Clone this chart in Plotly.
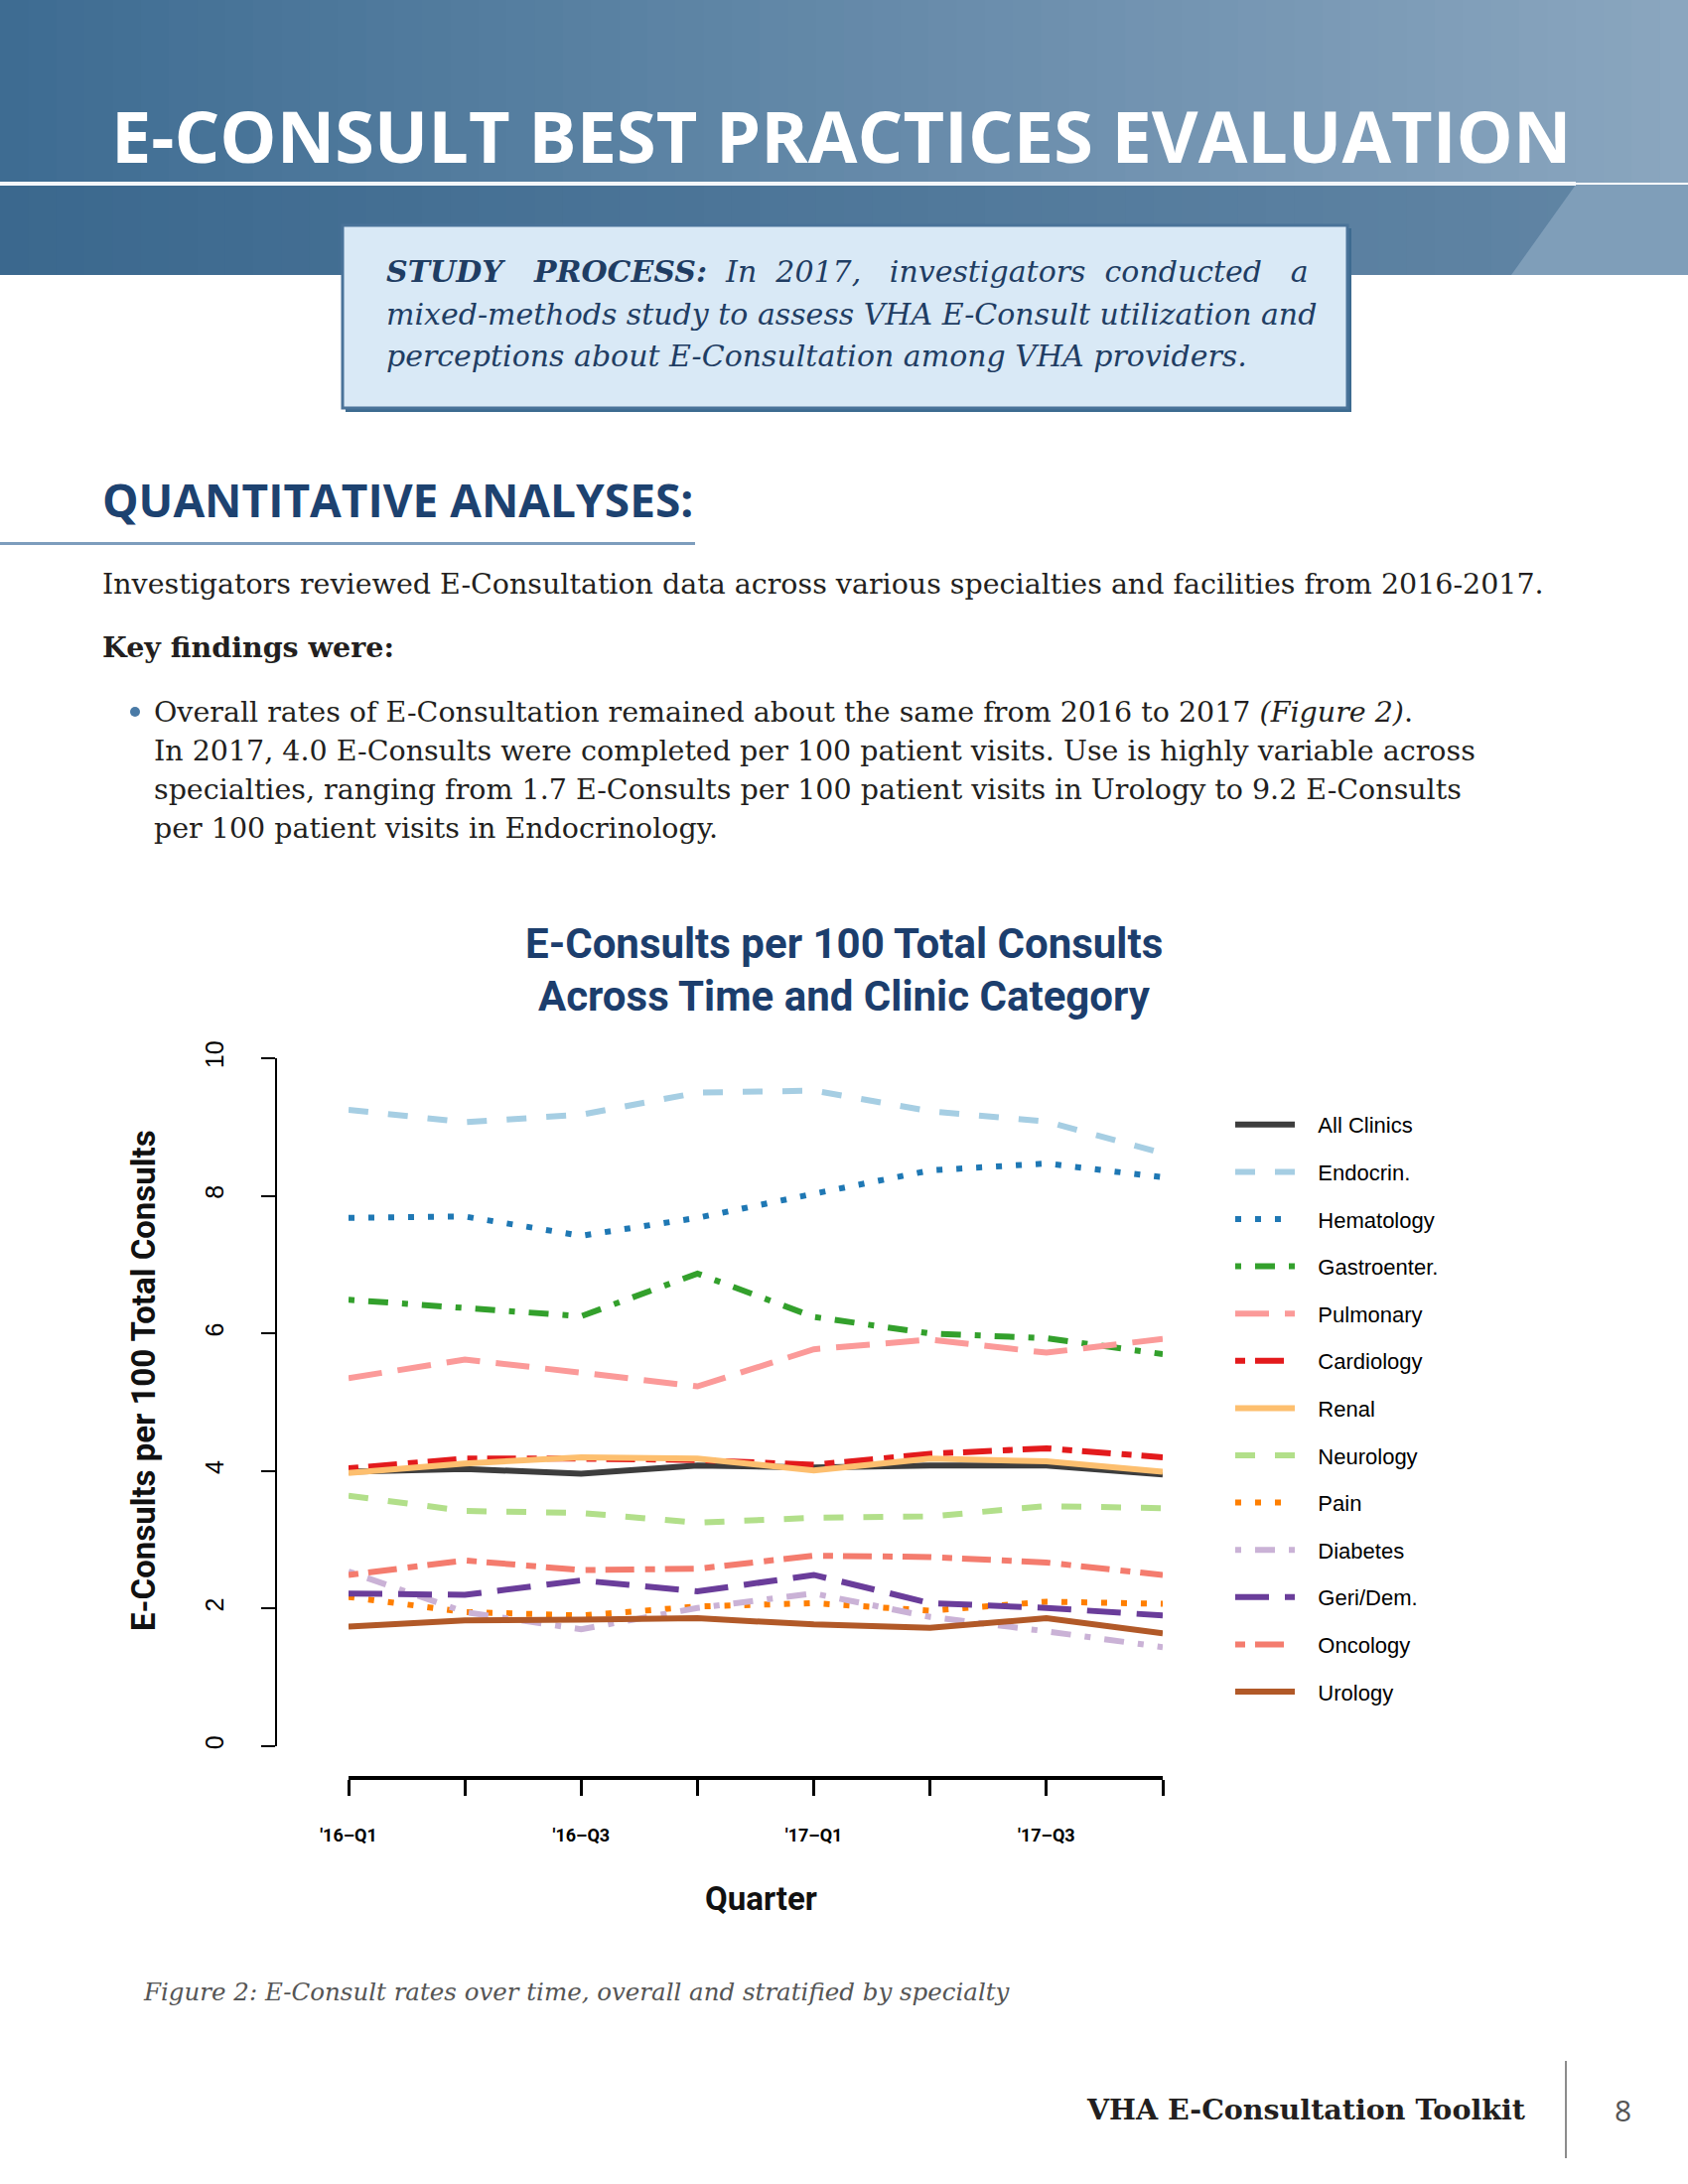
import plotly.graph_objects as go

W, H = 1700, 2200

# ---------------- data ----------------
quarters = ["'16–Q1", "'16–Q2", "'16–Q3", "'16–Q4", "'17–Q1", "'17–Q2", "'17–Q3", "'17–Q4"]
quarter_ticktext = ["'16–Q1", "", "'16–Q3", "", "'17–Q1", "", "'17–Q3", ""]
y_ticks = [0, 2, 4, 6, 8, 10]

clinics = ["All Clinics", "Endocrin.", "Hematology", "Gastroenter.", "Pulmonary", "Cardiology",
           "Renal", "Neurology", "Pain", "Diabetes", "Geri/Dem.", "Oncology", "Urology"]

all_clinics = [3.99, 4.03, 3.96, 4.08, 4.05, 4.08, 4.08, 3.95]
endocrin    = [9.25, 9.07, 9.18, 9.50, 9.53, 9.23, 9.08, 8.62]
hematology  = [7.68, 7.70, 7.42, 7.68, 8.03, 8.37, 8.47, 8.27]
gastro      = [6.49, 6.36, 6.25, 6.87, 6.24, 6.00, 5.93, 5.70]
pulmonary   = [5.35, 5.62, 5.43, 5.23, 5.77, 5.91, 5.72, 5.92]
cardiology  = [4.04, 4.18, 4.18, 4.16, 4.09, 4.25, 4.33, 4.20]
renal       = [3.97, 4.11, 4.20, 4.18, 4.01, 4.18, 4.14, 3.99]
neurology   = [3.64, 3.42, 3.39, 3.25, 3.32, 3.34, 3.49, 3.46]
pain        = [2.17, 1.95, 1.90, 2.03, 2.08, 1.97, 2.10, 2.07]
diabetes    = [2.54, 1.95, 1.70, 2.01, 2.22, 1.88, 1.67, 1.44]
geri_dem    = [2.22, 2.20, 2.41, 2.25, 2.49, 2.08, 2.01, 1.90]
oncology    = [2.49, 2.70, 2.56, 2.58, 2.77, 2.75, 2.67, 2.49]
urology     = [1.74, 1.83, 1.84, 1.86, 1.77, 1.72, 1.86, 1.64]

series = [all_clinics, endocrin, hematology, gastro, pulmonary, cardiology,
          renal, neurology, pain, diabetes, geri_dem, oncology, urology]

colors = ["#3d3d3d", "#a6cee3", "#1f78b4", "#33a02c", "#fb9a99", "#e31a1c",
          "#fdbf6f", "#b2df8a", "#ff7f00", "#cab2d6", "#6a3d9a", "#f47c6e", "#b15928"]

SOLID = "solid"
DASHED = "20px,20px"
DOTTED = "6px,14px"
DOTDASH = "6px,14px,20px,14px"
LONGDASH = "34px,16px"
TWODASH = "10px,10px,29px,11px"
dashes = [SOLID, DASHED, DOTTED, DOTDASH, LONGDASH, TWODASH,
          SOLID, DASHED, DOTTED, DOTDASH, LONGDASH, TWODASH, SOLID]

# ---------------- helpers (pixel -> paper) ----------------
def px(x):
    return x / W

def py(y):
    return 1 - y / H

COND = "Roboto, Arial, sans-serif"
SERIF = "DejaVu Serif, Georgia, serif"
SANS = "Liberation Sans, Arial, sans-serif"
GAP = "\u00a0\u00a0\u00a0"
NB = "\u00a0"

fig = go.Figure()

for name, vals, col, dsh in zip(clinics, series, colors, dashes):
    fig.add_trace(go.Scatter(
        x=quarters, y=vals, mode="lines", name=GAP + name, legendgroup=name,
        line=dict(color=col, width=6, dash=dsh),
        hoverinfo="skip",
    ))

shapes = []
annotations = []

# ---------------- header band ----------------
def lerp(c1, c2, t):
    a = [int(c1[i:i + 2], 16) for i in (1, 3, 5)]
    b = [int(c2[i:i + 2], 16) for i in (1, 3, 5)]
    return "#%02x%02x%02x" % tuple(round(a[k] + (b[k] - a[k]) * t) for k in range(3))

N = 60
for i in range(N):
    x0 = W * i / N
    x1 = W * (i + 1) / N + 1
    t = i / (N - 1)
    shapes.append(dict(type="rect", xref="paper", yref="paper", x0=px(x0), x1=px(x1),
                       y0=py(184), y1=py(0), fillcolor=lerp("#3e6c92", "#8aa6bf", t),
                       line=dict(width=0), layer="below"))
    shapes.append(dict(type="rect", xref="paper", yref="paper", x0=px(x0), x1=px(x1),
                       y0=py(277), y1=py(186), fillcolor=lerp("#3b688e", "#6286a5", t),
                       line=dict(width=0), layer="below"))
shapes.append(dict(type="path", xref="paper", yref="paper",
                   path="M %f,%f L %f,%f L %f,%f L %f,%f Z" % (px(1587), py(186), px(W), py(186),
                                                                px(W), py(277), px(1522), py(277)),
                   fillcolor="#7f9eb9", line=dict(width=0), layer="below"))
shapes.append(dict(type="rect", xref="paper", yref="paper", x0=0, x1=px(1587),
                   y0=py(187), y1=py(183), fillcolor="#f4f7fa", line=dict(width=0), layer="below"))

annotations.append(dict(text="<b>E-CONSULT BEST PRACTICES EVALUATION</b>", x=px(847), y=py(136),
                        xref="paper", yref="paper", showarrow=False, xanchor="center", yanchor="middle",
                        font=dict(family="Open Sans, sans-serif", size=72, color="white")))

# study process box
shapes.append(dict(type="rect", xref="paper", yref="paper", x0=px(348), x1=px(1361),
                   y0=py(415), y1=py(230), fillcolor="#3d6b90", line=dict(width=0), layer="below"))
shapes.append(dict(type="rect", xref="paper", yref="paper", x0=px(345), x1=px(1357),
                   y0=py(411), y1=py(227), fillcolor="#d9e9f6",
                   line=dict(color="#4a7399", width=3), layer="below"))
box_lines = [
    "<b>STUDY" + NB * 3 + "PROCESS:</b>" + NB * 2 + "In" + NB * 2 + "2017," + NB * 3 + "investigators"
    + NB * 2 + "conducted" + NB * 3 + "a",
    "mixed-methods study to assess VHA E-Consult utilization and",
    "perceptions about E-Consultation among VHA providers.",
]
for i, ln in enumerate(box_lines):
    annotations.append(dict(text="<i>" + ln + "</i>", x=px(387), y=py(274 + 42 * i),
                            xref="paper", yref="paper", showarrow=False, xanchor="left",
                            yanchor="middle", font=dict(family=SERIF, size=30, color="#1f3d63")))

# section heading
annotations.append(dict(text="<b>QUANTITATIVE ANALYSES:</b>", x=px(101), y=py(503),
                        xref="paper", yref="paper", showarrow=False, xanchor="left", yanchor="middle",
                        font=dict(family="Open Sans, sans-serif", size=46, color="#1d4270")))
shapes.append(dict(type="rect", xref="paper", yref="paper", x0=0, x1=px(700),
                   y0=py(549), y1=py(546), fillcolor="#7d9dbd", line=dict(width=0)))

annotations.append(dict(text="Investigators reviewed E-Consultation data across various specialties and facilities from 2016-2017.",
                        x=px(101), y=py(588), xref="paper", yref="paper", showarrow=False,
                        xanchor="left", yanchor="middle", font=dict(family=SERIF, size=28.5, color="#231f20")))
annotations.append(dict(text="<b>Key findings were:</b>", x=px(101), y=py(652), xref="paper", yref="paper",
                        showarrow=False, xanchor="left", yanchor="middle",
                        font=dict(family=SERIF, size=28.5, color="#231f20")))
shapes.append(dict(type="circle", xref="paper", yref="paper", x0=px(131), x1=px(141),
                   y0=py(722), y1=py(712), fillcolor="#4a7aa6", line=dict(width=0)))
bullet_lines = [
    "Overall rates of E-Consultation remained about the same from 2016 to 2017 <i>(Figure 2)</i>.",
    "In 2017, 4.0 E-Consults were completed per 100 patient visits. Use is highly variable across",
    "specialties, ranging from 1.7 E-Consults per 100 patient visits in Urology to 9.2 E-Consults",
    "per 100 patient visits in Endocrinology.",
]
for i, ln in enumerate(bullet_lines):
    annotations.append(dict(text=ln, x=px(153), y=py(717 + 39.3 * i), xref="paper", yref="paper",
                            showarrow=False, xanchor="left", yanchor="middle",
                            font=dict(family=SERIF, size=28.5, color="#231f20")))

# chart title
for i, ln in enumerate(["E-Consults per 100 Total Consults", "Across Time and Clinic Category"]):
    annotations.append(dict(text="<b>" + ln + "</b>", x=px(850), y=py(950 + 54 * i), xref="paper",
                            yref="paper", showarrow=False, xanchor="center", yanchor="middle",
                            font=dict(family=COND, size=42, color="#1c3e6d")))

# axis titles
annotations.append(dict(text="<b>E-Consults per 100 Total Consults</b>", x=px(144), y=py(1391),
                        xref="paper", yref="paper", showarrow=False, textangle=-90,
                        xanchor="center", yanchor="middle", font=dict(family=COND, size=33, color="#111111")))
annotations.append(dict(text="<b>Quarter</b>", x=px(766), y=py(1912), xref="paper", yref="paper",
                        showarrow=False, xanchor="center", yanchor="middle",
                        font=dict(family=COND, size=33, color="#111111")))

# caption & footer
annotations.append(dict(text="<i>Figure 2: E-Consult rates over time, overall and stratified by specialty</i>",
                        x=px(142), y=py(2006), xref="paper", yref="paper", showarrow=False,
                        xanchor="left", yanchor="middle", font=dict(family=SERIF, size=24.5, color="#555555")))
annotations.append(dict(text="<b>VHA E-Consultation Toolkit</b>", x=px(1539), y=py(2125), xref="paper",
                        yref="paper", showarrow=False, xanchor="right", yanchor="middle",
                        font=dict(family=SERIF, size=28.5, color="#231f20")))
shapes.append(dict(type="line", xref="paper", yref="paper", x0=px(1577), x1=px(1577),
                   y0=py(2076), y1=py(2174), line=dict(color="#8c8c8c", width=2)))
annotations.append(dict(text="8", x=px(1634), y=py(2125), xref="paper", yref="paper",
                        showarrow=False, xanchor="center", yanchor="middle",
                        font=dict(family="Open Sans, sans-serif", size=30, color="#555555")))

fig.update_layout(
    width=W, height=H, autosize=False,
    margin=dict(l=0, r=0, t=0, b=0, pad=0, autoexpand=False),
    paper_bgcolor="white", plot_bgcolor="rgba(0,0,0,0)",
    shapes=shapes, annotations=annotations,
    xaxis=dict(
        type="category", categoryorder="array", categoryarray=quarters,
        domain=[px(351), px(1171)], range=[0, 7],
        anchor="free", position=py(1791),
        showgrid=False, zeroline=False,
        showline=True, linecolor="black", linewidth=4,
        ticks="outside", ticklen=16, tickwidth=2.5, tickcolor="black",
        tickmode="array", tickvals=quarters,
        ticktext=["<b>" + t + "</b>" if t else "" for t in quarter_ticktext],
        ticklabelstandoff=24,
        tickfont=dict(family=COND, size=18, color="black"),
    ),
    yaxis=dict(
        domain=[py(1759), py(1066)], range=[0, 10],
        anchor="free", position=px(278),
        showgrid=False, zeroline=False,
        showline=True, linecolor="black", linewidth=2,
        ticks="outside", ticklen=14, tickwidth=2, tickcolor="black",
        tickmode="array", tickvals=y_ticks, tickangle=-90,
        ticklabelstandoff=28,
        tickfont=dict(family=SANS, size=25, color="black"),
    ),
    showlegend=True,
    legend=dict(
        x=px(1239), y=py(1112), xanchor="left", yanchor="top",
        bgcolor="rgba(0,0,0,0)", borderwidth=0,
        font=dict(family=SANS, size=22, color="black"),
        itemwidth=60, tracegroupgap=16, traceorder="grouped",
    ),
)

fig.write_html("out.html", config=dict(displayModeBar=False),
               post_script="document.body.style.margin='0px';")
